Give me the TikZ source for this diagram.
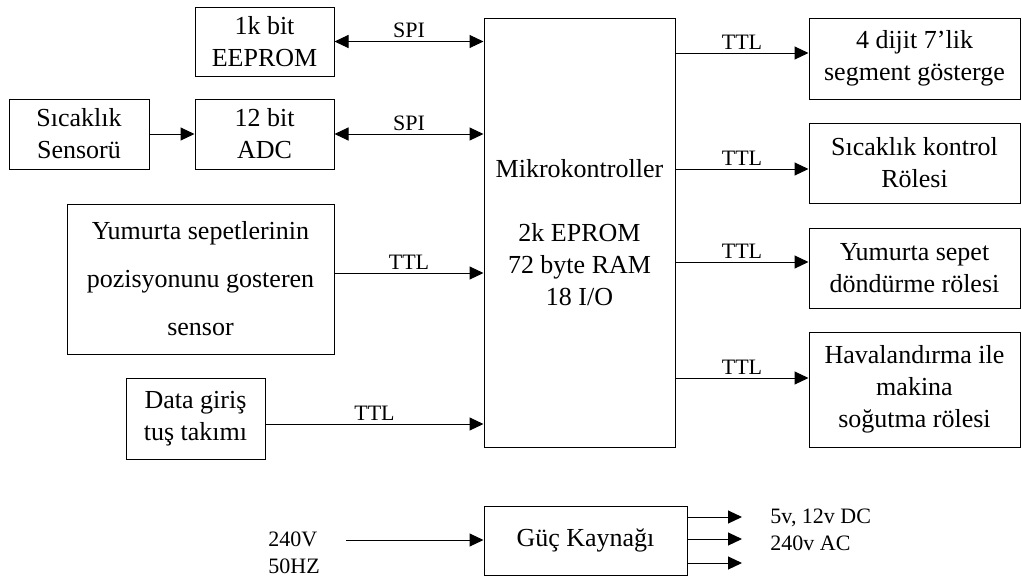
\documentclass[tikz,border=0pt]{standalone}
\usepackage{fontspec}
\setmainfont{Liberation Serif}
\usetikzlibrary{arrows.meta}

\begin{document}
\begin{tikzpicture}[
  x=0.5pt, y=-0.5pt,
  box/.style={draw, line width=0.5pt, align=center, inner sep=2pt, font=\fontsize{13}{16}\selectfont},
  sig/.style={line width=0.5pt, -{Triangle[length=7pt, width=6.5pt]}},
  bisig/.style={line width=0.5pt, {Triangle[length=7pt, width=6.5pt]}-{Triangle[length=7pt, width=6.5pt]}},
  lbl/.style={font=\fontsize{11}{13.5}\selectfont, inner sep=1.5pt}
]
  \useasboundingbox (0,0) rectangle (1022,579);

  % Inputs
  \node[box, minimum width=69.5pt, minimum height=34.5pt] (eeprom) at (264.5,41.5) {1k bit\\EEPROM};
  \node[box, minimum width=69.5pt, minimum height=35pt] (adc) at (264.5,134) {12 bit\\ADC};
  \node[box, minimum width=70pt, minimum height=35pt] (sensor) at (79,134) {Sıcaklık\\Sensorü};
  \node[box, minimum width=133.5pt, minimum height=75pt, font=\fontsize{13}{24}\selectfont] (basket) at (200.5,279) {
    Yumurta sepetlerinin\\
    pozisyonunu gosteren\\
    sensor
  };
  \node[box, minimum width=69.5pt, minimum height=40.5pt] (keypad) at (195.5,418.5) {Data giriş\\tuş takımı};

  % Controller
  \node[box, minimum width=95.5pt, minimum height=214.5pt] (mcu) at (579.5,232.5) {
    Mikrokontroller\\[16pt]
    2k EPROM\\
    72 byte RAM\\
    18 I/O
  };

  % Outputs
  \node[box, minimum width=105.5pt, minimum height=40.5pt] (display) at (914.5,58.5) {4 dijit 7’lik\\segment gösterge};
  \node[box, minimum width=105.5pt, minimum height=40pt] (heater) at (914.5,163) {Sıcaklık kontrol\\Rölesi};
  \node[box, minimum width=105.5pt, minimum height=40pt] (turner) at (914.5,268) {Yumurta sepet\\döndürme rölesi};
  \node[box, minimum width=105.5pt, minimum height=57.5pt] (cooler) at (914.5,389.5) {Havalandırma ile\\makina\\soğutma rölesi};

  % Power supply
  \node[box, minimum width=101.5pt, minimum height=34.5pt] (psu) at (585.5,540.5) {Güç Kaynağı};
  \node[lbl, align=left, anchor=west] (mainslbl) at (265,553) {240V\\50HZ};
  \node[lbl, align=left, anchor=west] (outlbl) at (767,530) {5v, 12v DC\\240v AC};
  \coordinate (mains) at (346,540);

  % Links
  \draw[sig] (sensor.east) -- (adc.west);
  \draw[bisig] (eeprom.east) -- (eeprom.east -| mcu.west) node[lbl, midway, above] {SPI};
  \draw[bisig] (adc.east) -- (adc.east -| mcu.west) node[lbl, midway, above] {SPI};
  \draw[sig] ([yshift=3pt]basket.east) -- ([yshift=3pt]basket.east -| mcu.west) node[lbl, midway, above] {TTL};
  \draw[sig] ([yshift=-2.75pt]keypad.east) -- ([yshift=-2.75pt]keypad.east -| mcu.west) node[lbl, midway, above] {TTL};

  \draw[sig] ([yshift=2.75pt]display.west -| mcu.east) -- ([yshift=2.75pt]display.west) node[lbl, midway, above] {TTL};
  \draw[sig] ([yshift=-3pt]heater.west -| mcu.east) -- ([yshift=-3pt]heater.west) node[lbl, midway, above] {TTL};
  \draw[sig] ([yshift=3pt]turner.west -| mcu.east) -- ([yshift=3pt]turner.west) node[lbl, midway, above] {TTL};
  \draw[sig] ([yshift=5.75pt]cooler.west -| mcu.east) -- ([yshift=5.75pt]cooler.west) node[lbl, midway, above] {TTL};

  \draw[sig] (mains) -- (mains -| psu.west);
  \foreach \y [count=\i] in {517,539,563} {
    \coordinate (out\i) at (742,\y);
    \draw[sig] (psu.east |- out\i) -- (out\i);
  }
\end{tikzpicture}
\end{document}
